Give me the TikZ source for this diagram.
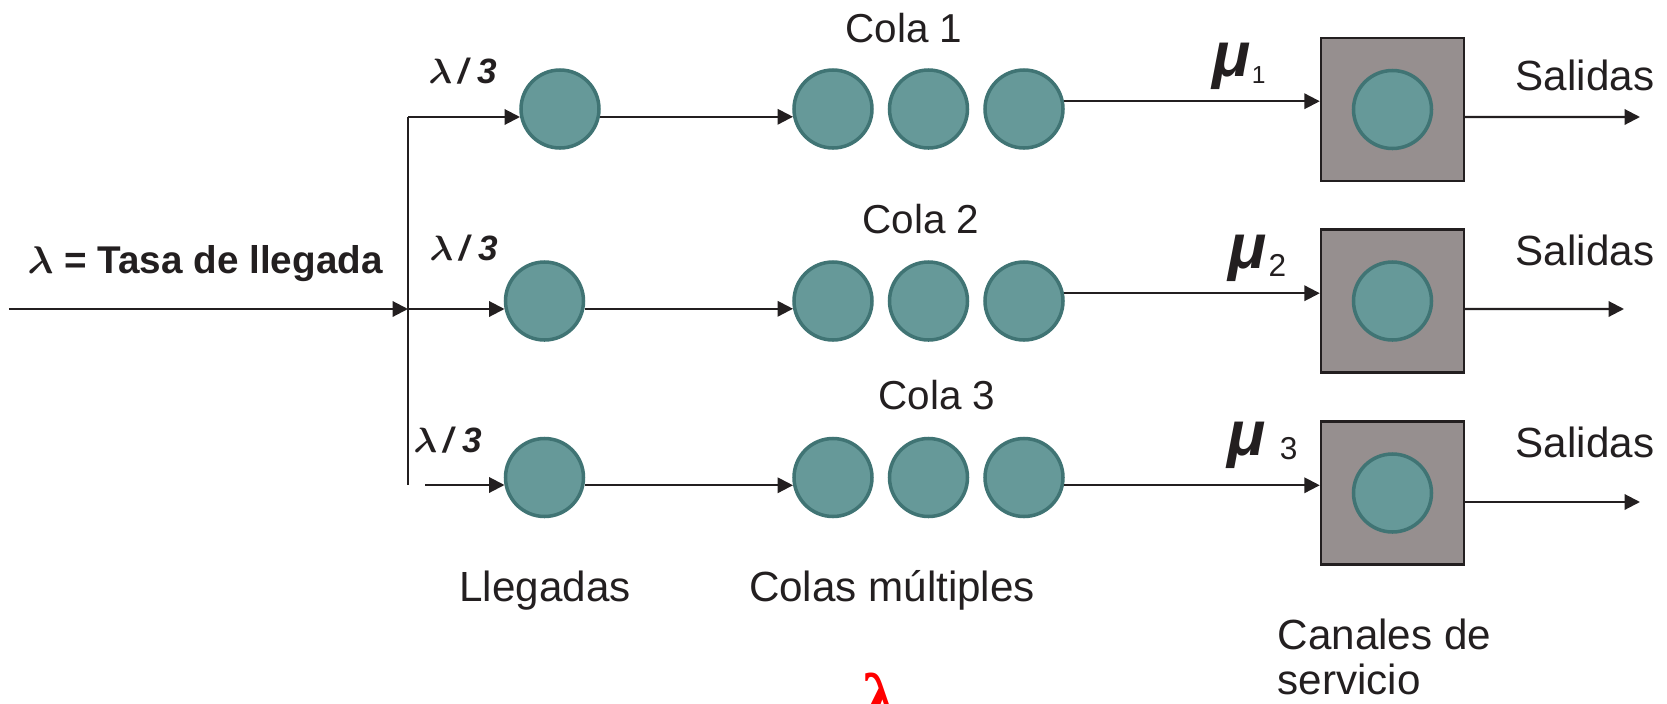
\documentclass[tikz,border=0pt]{standalone}
\usepackage{amsmath}
\usepackage{fontspec}
\setmainfont{Liberation Sans}
\newfontfamily\serifgreek{Liberation Serif}
\usetikzlibrary{arrows.meta}
\definecolor{tealfill}{RGB}{102,153,153}
\definecolor{tealline}{RGB}{64,116,116}
\definecolor{boxgray}{RGB}{150,143,143}
\definecolor{inkline}{RGB}{35,31,32}
\tikzset{client circle/.style={draw=tealline, line width=1pt, fill=tealfill, circle, inner sep=0pt, minimum width=7.8mm}}
\tikzset{server box/.style={draw=inkline, line width=0.7pt, fill=boxgray, inner sep=0pt, minimum width=14.3mm, minimum height=14.3mm}}
\tikzset{flow/.style={draw=inkline, line width=0.6pt, -{Triangle[length=4.4pt,width=4.4pt]}}}
\tikzset{plain label/.style={inner sep=0pt, text=inkline, font=\fontsize{12}{12.8}\selectfont}}
\tikzset{rate label/.style={inner sep=0pt, text=inkline, font=\fontsize{10}{10}\selectfont, anchor=base west}}
\tikzset{mu label/.style={inner sep=0pt, text=inkline, anchor=base west}}

\begin{document}
\begin{tikzpicture}
\useasboundingbox (0mm,0mm) rectangle (166.7mm,-70.4mm);

% llegadas
\node[client circle] (arr1) at (56.0mm,-10.9mm) {};
\node[client circle] (arr2) at (54.45mm,-30.1mm) {};
\node[client circle] (arr3) at (54.45mm,-47.75mm) {};

% colas multiples
\node[client circle] (q11) at (83.3mm,-10.9mm) {};
\node[client circle] (q12) at (92.85mm,-10.9mm) {};
\node[client circle] (q13) at (102.4mm,-10.9mm) {};
\node[client circle] (q21) at (83.3mm,-30.1mm) {};
\node[client circle] (q22) at (92.85mm,-30.1mm) {};
\node[client circle] (q23) at (102.4mm,-30.1mm) {};
\node[client circle] (q31) at (83.3mm,-47.75mm) {};
\node[client circle] (q32) at (92.85mm,-47.75mm) {};
\node[client circle] (q33) at (102.4mm,-47.75mm) {};

% canales de servicio
\node[server box] (box1) at (139.25mm,-10.95mm) {};
\node[client circle] (srv1) at (139.25mm,-10.95mm) {};
\node[server box] (box2) at (139.25mm,-30.1mm) {};
\node[client circle] (srv2) at (139.25mm,-30.1mm) {};
\node[server box] (box3) at (139.25mm,-49.3mm) {};
\node[client circle] (srv3) at (139.25mm,-49.3mm) {};

\coordinate (start) at (0.9mm,-30.9mm);
\coordinate (split) at (40.8mm,-30.9mm);
\coordinate (top) at (40.8mm,-11.7mm);
\coordinate (bottom) at (40.8mm,-48.5mm);
\coordinate (in3) at (42.5mm,-48.5mm);
\coordinate (out1) at (164.0mm,-11.7mm);
\coordinate (out2) at (162.4mm,-30.9mm);
\coordinate (out3) at (164.0mm,-50.2mm);

\draw[flow] (start) -- (split);
\draw[draw=inkline, line width=0.6pt] (top) -- (bottom);
\draw[flow] (top) -- (top -| arr1.191);
\draw[flow] (split) -- (split -| arr2.191);
\draw[flow] (in3) -- (in3 -| arr3.191);

\draw[flow] (arr1.-11) -- (q11.191);
\draw[flow] (arr2.-11) -- (q21.191);
\draw[flow] (arr3.-11) -- (q31.191);

\draw[flow] (q13.11) -- (q13.11 -| box1.west);
\draw[flow] (q23.11) -- (q23.11 -| box2.west);
\draw[flow] (q33.-11) -- (q33.-11 -| box3.west);

\draw[flow] ([yshift=-0.75mm]box1.east) -- (out1);
\draw[flow] ([yshift=-0.8mm]box2.east) -- (out2);
\draw[flow] ([yshift=-0.9mm]box3.east) -- (out3);

% textos
\node[rate label, font=\fontsize{11}{11}\selectfont] (rate) at (2.7mm,-27.3mm) {$\boldsymbol{\lambda}$ \textbf{= Tasa de llegada}};
\node[rate label] (rate1) at (42.8mm,-8.3mm) {$\boldsymbol{\lambda}$\,\textbf{\textit{/ 3}}};
\node[rate label] (rate2) at (42.9mm,-26.0mm) {$\boldsymbol{\lambda}$\,\textbf{\textit{/ 3}}};
\node[rate label] (rate3) at (41.3mm,-45.2mm) {$\boldsymbol{\lambda}$\,\textbf{\textit{/ 3}}};

\node[mu label] (mu1) at (121.2mm,-7.65mm) {\fontsize{18}{18}\selectfont\bfseries\itshape μ\kern0.3pt\raisebox{-1.85pt}{\normalfont\fontsize{7}{7}\selectfont 1}};
\node[mu label] (mu2) at (122.8mm,-26.85mm) {\fontsize{18}{18}\selectfont\bfseries\itshape μ\kern0.5pt\raisebox{-2.4pt}{\normalfont\fontsize{9}{9}\selectfont 2}};
\node[mu label] (mu3) at (122.7mm,-45.5mm) {\fontsize{18}{18}\selectfont\bfseries\itshape μ\kern4pt\raisebox{-1.4pt}{\normalfont\fontsize{9}{9}\selectfont 3}};

\node[plain label, anchor=base, font=\fontsize{11.5}{12}\selectfont] (cola1) at (90.4mm,-4.2mm) {Cola 1};
\node[plain label, anchor=base, font=\fontsize{11.5}{12}\selectfont] (cola2) at (92.1mm,-23.3mm) {Cola 2};
\node[plain label, anchor=base, font=\fontsize{11.5}{12}\selectfont] (cola3) at (93.7mm,-40.9mm) {Cola 3};

\node[plain label, anchor=base] (sal1) at (158.5mm,-9.0mm) {Salidas};
\node[plain label, anchor=base] (sal2) at (158.5mm,-26.5mm) {Salidas};
\node[plain label, anchor=base] (sal3) at (158.5mm,-45.7mm) {Salidas};

\node[plain label, anchor=base] (lleg) at (54.5mm,-60.1mm) {Llegadas};
\node[plain label, anchor=base] (colas) at (89.2mm,-60.1mm) {Colas múltiples};
\node[plain label, anchor=north west, align=left] (canales) at (127.7mm,-61.8mm) {Canales de\\servicio};

\node[inner sep=0pt, anchor=north, text=red, font=\fontsize{20}{20}\selectfont\serifgreek\bfseries] (redlambda) at (88.0mm,-67.2mm) {λ};

\end{tikzpicture}
\end{document}
